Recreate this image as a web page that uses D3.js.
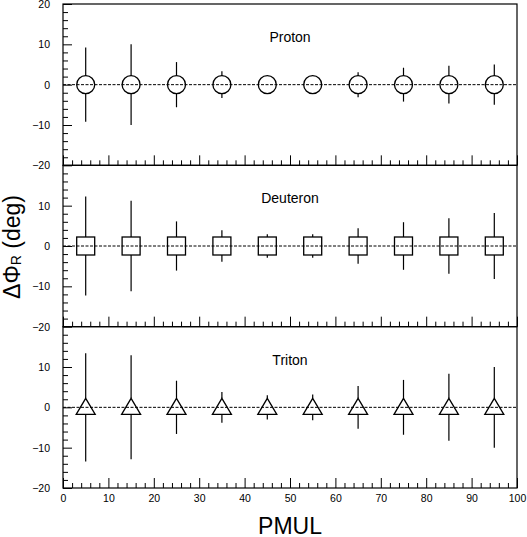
<!DOCTYPE html>
<html>
<head>
<meta charset="utf-8">
<script src="https://cdn.jsdelivr.net/npm/d3@7"></script>
<style>
  body { margin: 0; background: #fff; }
  svg { display: block; font-family: "Liberation Sans", Arial, sans-serif; }
</style>
</head>
<body>
<div id="chart"></div>
<script>
// PMUL bin centres
const pmul = [5, 15, 25, 35, 45, 55, 65, 75, 85, 95];

// mean Delta Phi_R per bin (all sit on zero)
const protonMean = [0, 0, 0, 0, 0, 0, 0, 0, 0, 0];
const deuteronMean = [0, 0, 0, 0, 0, 0, 0, 0, 0, 0];
const tritonMean = [0, 0, 0, 0, 0, 0, 0, 0, 0, 0];

// error bar half-widths
const protonErr = [9.2, 10.0, 5.6, 3.3, 1.8, 1.8, 3.1, 4.2, 4.7, 5.0];
const deuteronErr = [12.3, 11.2, 6.1, 3.9, 2.9, 2.9, 4.4, 5.9, 6.9, 8.2];
const tritonErr = [13.4, 12.9, 6.6, 3.8, 3.0, 3.2, 5.3, 6.8, 8.3, 10.0];

const panelNames = ["Proton", "Deuteron", "Triton"];
const xTicks = [0, 10, 20, 30, 40, 50, 60, 70, 80, 90, 100];
const yTicksTop = [20, 10, 0, -10, -20];
const yTicksRest = [10, 0, -10, -20];

const width = 527, height = 537;
const plotLeft = 63, plotRight = 517, plotTop = 4, plotBottom = 488;
const panelH = (plotBottom - plotTop) / 3;

const svg = d3.select("#chart").append("svg")
  .attr("width", width)
  .attr("height", height);

const x = d3.scaleLinear().domain([0, 100]).range([plotLeft, plotRight]);

const panels = [
  { name: panelNames[0], mean: protonMean, err: protonErr, marker: "circle", yTicks: yTicksTop },
  { name: panelNames[1], mean: deuteronMean, err: deuteronErr, marker: "square", yTicks: yTicksRest },
  { name: panelNames[2], mean: tritonMean, err: tritonErr, marker: "triangle", yTicks: yTicksRest }
];

// marker extents above / below centre, in px
const markerTop = { circle: 9, square: 9, triangle: 9 };
const markerBot = { circle: 9, square: 9, triangle: 7 };

panels.forEach((p, i) => {
  const y0 = plotTop + i * panelH;
  const y1 = y0 + panelH;
  const y = d3.scaleLinear().domain([-20, 20]).range([y1, y0]);
  const g = svg.append("g");

  // minor ticks every 2, major every 10 (drawn inward)
  const minorY = d3.range(-20, 20.1, 2).filter(v => v % 10 !== 0);
  g.append("g")
    .attr("transform", `translate(${plotLeft},0)`)
    .call(d3.axisLeft(y).tickValues(minorY).tickSize(-5).tickFormat(""))
    .call(a => a.select(".domain").remove());
  g.append("g")
    .attr("transform", `translate(${plotLeft},0)`)
    .call(d3.axisLeft(y).tickValues(p.yTicks).tickSizeInner(-9).tickSizeOuter(0).tickPadding(13))
    .call(a => a.select(".domain").remove())
    .call(a => a.selectAll("text").attr("font-size", 10.5).attr("font-family", "Liberation Sans, Arial, sans-serif"));

  const minorX = d3.range(0, 100.1, 2).filter(v => v % 10 !== 0);
  g.append("g")
    .attr("transform", `translate(0,${y1})`)
    .call(d3.axisBottom(x).tickValues(minorX).tickSize(-5).tickFormat(""))
    .call(a => a.select(".domain").remove());
  g.append("g")
    .attr("transform", `translate(0,${y1})`)
    .call(d3.axisBottom(x).tickValues(xTicks).tickSizeInner(-10).tickSizeOuter(0).tickPadding(7)
      .tickFormat(i === 2 ? d3.format("d") : ""))
    .call(a => a.select(".domain").remove())
    .call(a => a.selectAll("text").attr("font-size", 10.5).attr("font-family", "Liberation Sans, Arial, sans-serif"));

  // frame
  g.append("rect")
    .attr("x", plotLeft).attr("y", y0)
    .attr("width", plotRight - plotLeft).attr("height", panelH)
    .attr("fill", "none").attr("stroke", "#000").attr("stroke-width", 1.2);

  // zero line
  g.append("line")
    .attr("x1", plotLeft).attr("x2", plotRight)
    .attr("y1", y(0)).attr("y2", y(0))
    .attr("stroke", "#000").attr("stroke-width", 1)
    .attr("stroke-dasharray", "3,1.5");

  const data = pmul.map((v, k) => ({ x: v, m: p.mean[k], e: p.err[k] }));

  // error bars, drawn outside the marker only
  const up = markerTop[p.marker], dn = markerBot[p.marker];
  g.selectAll(".eu").data(data.filter(d => y(d.m + d.e) < y(d.m) - up)).enter()
    .append("line")
    .attr("x1", d => x(d.x)).attr("x2", d => x(d.x))
    .attr("y1", d => y(d.m + d.e)).attr("y2", d => y(d.m) - up)
    .attr("stroke", "#000").attr("stroke-width", 1.2);
  g.selectAll(".ed").data(data.filter(d => y(d.m - d.e) > y(d.m) + dn)).enter()
    .append("line")
    .attr("x1", d => x(d.x)).attr("x2", d => x(d.x))
    .attr("y1", d => y(d.m) + dn).attr("y2", d => y(d.m - d.e))
    .attr("stroke", "#000").attr("stroke-width", 1.2);

  // markers
  if (p.marker === "circle") {
    g.selectAll(".mk").data(data).enter().append("circle")
      .attr("cx", d => x(d.x)).attr("cy", d => y(d.m)).attr("r", 9)
      .attr("fill", "none").attr("stroke", "#000").attr("stroke-width", 1.3);
  } else if (p.marker === "square") {
    g.selectAll(".mk").data(data).enter().append("rect")
      .attr("x", d => x(d.x) - 9).attr("y", d => y(d.m) - 9)
      .attr("width", 18).attr("height", 18)
      .attr("fill", "none").attr("stroke", "#000").attr("stroke-width", 1.3);
  } else {
    g.selectAll(".mk").data(data).enter().append("path")
      .attr("d", d => `M${x(d.x)},${y(d.m) - 9}L${x(d.x) + 9.5},${y(d.m) + 7}L${x(d.x) - 9.5},${y(d.m) + 7}Z`)
      .attr("fill", "none").attr("stroke", "#000").attr("stroke-width", 1.3);
  }

  // particle label
  g.append("text")
    .attr("x", x(50)).attr("y", y0 + 38)
    .attr("text-anchor", "middle")
    .attr("font-size", 14)
    .text(p.name);
});

// axis titles
svg.append("text")
  .attr("x", x(50)).attr("y", 534)
  .attr("text-anchor", "middle")
  .attr("font-size", 23)
  .text("PMUL");

const yl = svg.append("text")
  .attr("transform", "translate(20,247) rotate(-90)")
  .attr("text-anchor", "middle")
  .attr("font-size", 23);
yl.append("tspan").text("ΔΦ");
yl.append("tspan").attr("font-size", 14).attr("dy", 1).text("R");
yl.append("tspan").attr("dy", -1).text(" (deg)");
</script>
</body>
</html>
